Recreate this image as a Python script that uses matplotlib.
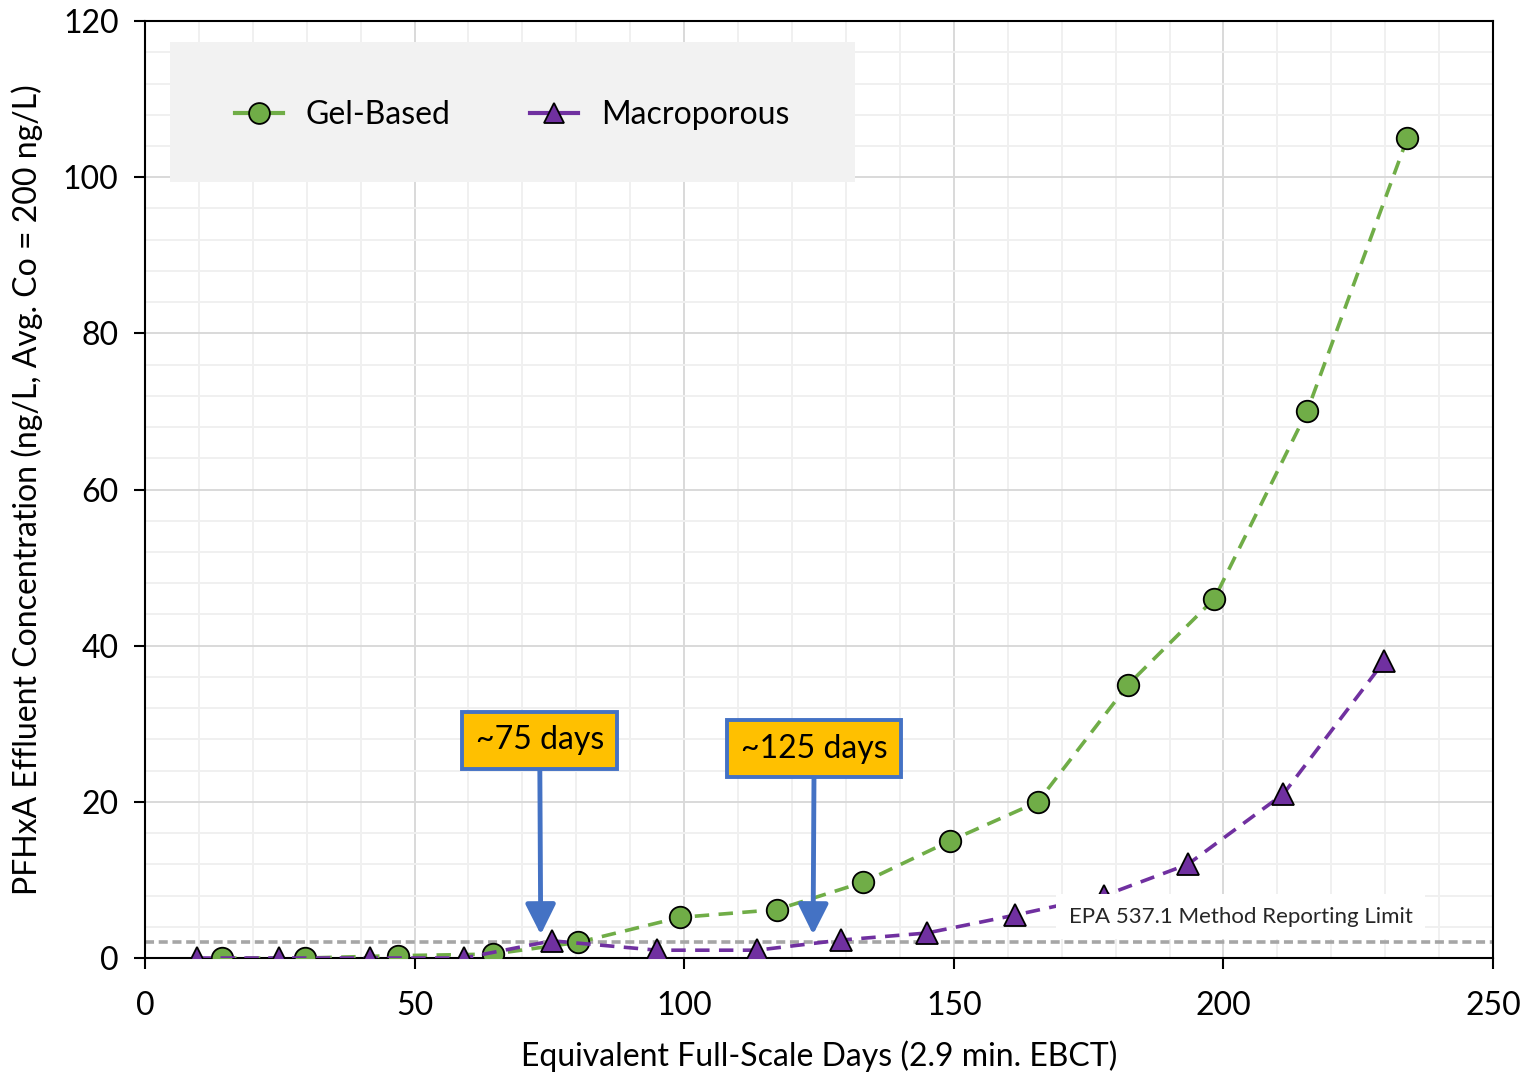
import numpy as np
import matplotlib
matplotlib.use('Agg')
import matplotlib.pyplot as plt
from matplotlib.patches import Rectangle
from matplotlib.ticker import MultipleLocator

plt.rcParams['font.family'] = ['Lato', 'DejaVu Sans']

# data
gel_days = [14.3, 29.7, 46.9, 64.5, 80.3, 99.2, 117.2, 133.2, 149.3, 165.6, 182.3, 198.3, 215.5, 234.1]
gel_conc = [0.0, 0.0, 0.3, 0.5, 2.0, 5.2, 6.2, 9.7, 15.0, 20.0, 35.0, 46.0, 70.0, 105.0]

macro_days = [9.6, 24.9, 41.7, 59.2, 75.5, 95.0, 113.5, 129.1, 145.0, 161.4, 177.9, 193.4, 211.1, 229.8]
macro_conc = [0.0, 0.0, 0.0, 0.0, 2.2, 1.0, 1.0, 2.3, 3.2, 5.5, 8.0, 12.0, 21.0, 38.0]

mrl = 2.0
callouts = [('~75 days', 73.4, 73.2, 27.9), ('~125 days', 123.9, 124.1, 26.8)]

green = '#70ad47'
purple = '#7030a0'

fig = plt.figure(figsize=(15.32, 10.74), dpi=100)
ax = fig.add_axes([0.0946, 0.108, 0.88, 0.8724])

ax.set_xlim(0, 250)
ax.set_ylim(0, 120)
ax.xaxis.set_major_locator(MultipleLocator(50))
ax.xaxis.set_minor_locator(MultipleLocator(10))
ax.yaxis.set_major_locator(MultipleLocator(20))
ax.yaxis.set_minor_locator(MultipleLocator(4))
ax.grid(which='major', color='#d9d9d9', lw=1.4, zorder=0)
ax.grid(which='minor', color='#f0f0f0', lw=1.4, zorder=0)
ax.set_axisbelow(True)
ax.tick_params(which='major', direction='out', length=8, width=1.5, labelsize=23, pad=11)
ax.tick_params(axis='x', which='major', pad=16)
ax.tick_params(which='minor', length=0)
for s in ax.spines.values():
    s.set_color('black')
    s.set_linewidth(1.5)

ax.axhline(mrl, color='#a6a6a6', lw=2.6, dashes=(2.5, 1.3), zorder=2)

ax.plot(gel_days, gel_conc, color=green, lw=2.6, dashes=(4, 2.6), marker='o', ms=15.5,
        mfc=green, mec='black', mew=1.3, zorder=4, label='Gel-Based')
ax.plot(macro_days, macro_conc, color=purple, lw=2.6, dashes=(4, 2.6), marker='^', ms=15.5,
        mfc=purple, mec='black', mew=1.3, zorder=4, label='Macroporous')

ax.text(171.3, 5.3, 'EPA 537.1 Method Reporting Limit', fontsize=16, color='#262626', va='center',
        bbox=dict(fc='white', ec='none', pad=9), zorder=5)

for label, tip_x, box_x, box_y in callouts:
    ax.annotate(label, xy=(tip_x, 3.0), xytext=(box_x, box_y), fontsize=23, ha='center', va='center',
                bbox=dict(boxstyle='square,pad=0.42', fc='#ffc000', ec='#4472c4', lw=2.8),
                arrowprops=dict(arrowstyle='-|>,head_width=0.4,head_length=0.8', color='#4472c4', lw=3.5,
                                shrinkA=0, shrinkB=0),
                zorder=6)

ax.add_patch(Rectangle((0.0185, 0.828), 0.508, 0.15, transform=ax.transAxes, fc='#f2f2f2', ec='none', zorder=3))
leg = ax.legend(loc='center', bbox_to_anchor=(0.2725, 0.9), ncol=2, frameon=False, fontsize=23,
                handlelength=1.5, columnspacing=2.5, handletextpad=0.7)
for h in leg.get_lines():
    h.set_dashes((None, None))
    h.set_linestyle('-')
    h.set_linewidth(3)
    h.set_markersize(15)
leg.set_zorder(7)

ax.set_xlabel('Equivalent Full-Scale Days (2.9 min. EBCT)', fontsize=23, labelpad=14)
ax.set_ylabel('PFHxA Effluent Concentration (ng/L, Avg. Co = 200 ng/L)', fontsize=23, labelpad=14)

fig.savefig('out.png', dpi=100)
